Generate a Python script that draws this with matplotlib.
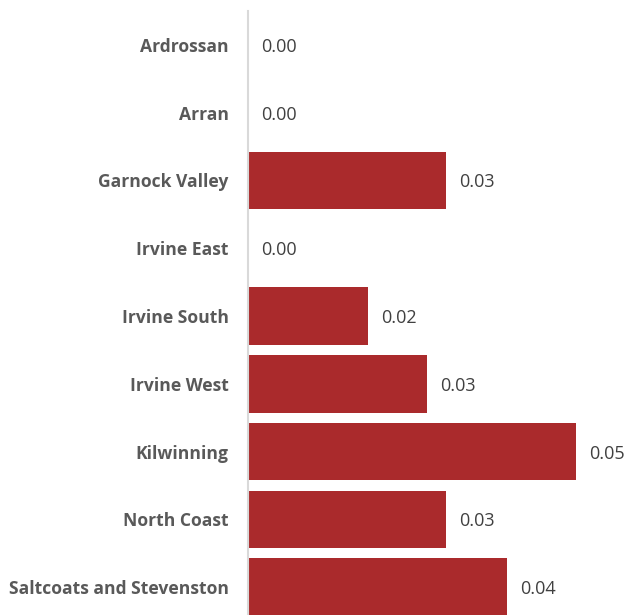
import matplotlib
matplotlib.use("Agg")
import matplotlib.pyplot as plt

categories = ["Ardrossan", "Arran", "Garnock Valley", "Irvine East", "Irvine South",
              "Irvine West", "Kilwinning", "North Coast", "Saltcoats and Stevenston"]
values = [0.0, 0.0, 0.0302, 0.0, 0.0183, 0.0273, 0.0500, 0.0302, 0.0395]

plt.rcParams['font.family'] = ['Open Sans', 'DejaVu Sans']

fig = plt.figure(figsize=(6.3, 6.15), dpi=100)
ax = fig.add_axes([248/630, -6/615, 382/630, 610/615])

y = list(range(len(categories)))
ax.barh(y, values, height=0.85, color="#AA2A2C", zorder=2)
ax.set_ylim(len(categories) - 0.5, -0.5)
ax.set_xlim(0, 0.05 * 382 / 328)

ax.set_yticks(y)
ax.set_yticklabels(categories, fontsize=12.6, fontweight='bold', color="#595959")
ax.tick_params(axis='y', length=0, pad=14)
ax.set_xticks([])
for s in ["top", "right", "bottom"]:
    ax.spines[s].set_visible(False)
ax.spines["left"].set_color("#D9D9D9")
ax.spines["left"].set_linewidth(1.5)
ax.spines["left"].set_zorder(3)

for yi, v in zip(y, values):
    ax.annotate(f"{v:.2f}", xy=(v, yi), xytext=(13, -2), textcoords="offset pixels",
                ha="left", va="center", fontsize=13, color="#404040")

fig.savefig("out.png", dpi=100)
